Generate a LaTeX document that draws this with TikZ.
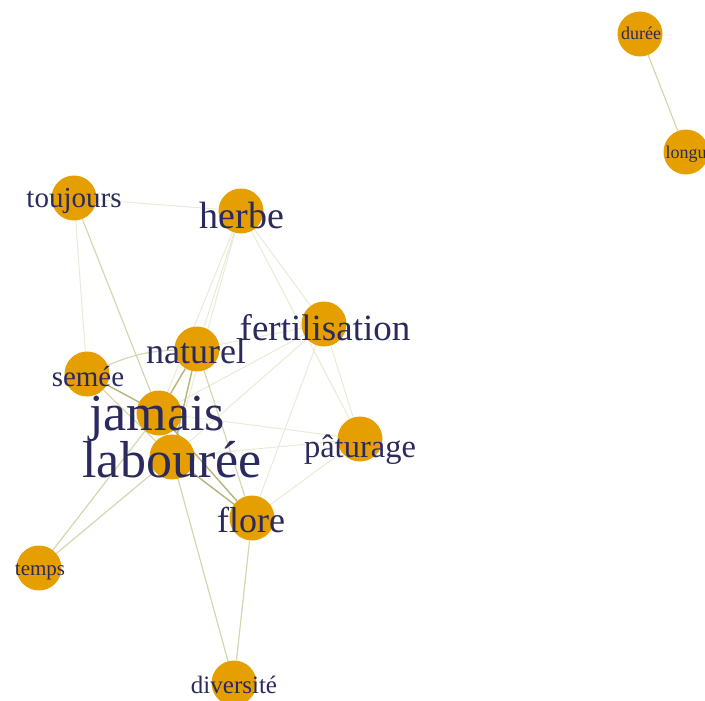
\documentclass[tikz,border=0pt]{standalone}
\usepackage{fontspec}
\setmainfont{Liberation Serif}
\usetikzlibrary{backgrounds}
\definecolor{nodeorange}{HTML}{E69F00}
\definecolor{labelnavy}{HTML}{2B2A5E}
\definecolor{edgedark}{HTML}{B4B47C}
\definecolor{edgemid}{HTML}{D6D6AE}
\definecolor{edgelight}{HTML}{EAEAD6}
\begin{document}
\begin{tikzpicture}[x=1pt,y=-1pt,
  vtx/.style={circle,fill=nodeorange,minimum size=45pt,inner sep=0pt},
  lbl/.style={text=labelnavy,anchor=base,inner sep=0pt},
  heavy/.style={draw=edgedark,line width=1.4pt},
  medium/.style={draw=edgemid,line width=1.2pt},
  light/.style={draw=edgelight,line width=1pt}]
\useasboundingbox (0,0) rectangle (705,701);
% vertices
\node[vtx] (duree) at (640,34) {};
\node[vtx] (longue) at (686,152) {};
\node[vtx] (toujours) at (74,198) {};
\node[vtx] (herbe) at (241,211) {};
\node[vtx] (fert) at (324,324) {};
\node[vtx] (naturel) at (197,349) {};
\node[vtx] (semee) at (87,374) {};
\node[vtx] (jamais) at (159,413) {};
\node[vtx] (labouree) at (172,457) {};
\node[vtx] (paturage) at (360,439) {};
\node[vtx] (flore) at (252,518) {};
\node[vtx] (temps) at (39,568) {};
\node[vtx] (diversite) at (234,683) {};
% edges
\begin{pgfonlayer}{background}
\draw[medium] (duree) -- (longue);
\draw[light] (toujours) -- (herbe);
\draw[light] (toujours) -- (semee);
\draw[medium] (toujours) -- (jamais);
\draw[light] (herbe) -- (naturel);
\draw[light] (herbe) -- (jamais);
\draw[light] (herbe) -- (labouree);
\draw[light] (herbe) -- (fert);
\draw[light] (herbe) -- (paturage);
\draw[light] (naturel) -- (fert);
\draw[light] (jamais) -- (fert);
\draw[light] (labouree) -- (fert);
\draw[light] (fert) -- (flore);
\draw[light] (fert) -- (paturage);
\draw[light] (jamais) -- (paturage);
\draw[light] (labouree) -- (paturage);
\draw[light] (flore) -- (paturage);
\draw[medium] (semee) to[bend left=10] (naturel);
\draw[heavy] (semee) -- (jamais);
\draw[medium] (semee) -- (labouree);
\draw[heavy] (naturel) -- (jamais);
\draw[heavy] (naturel) -- (labouree);
\draw[medium] (naturel) -- (flore);
\draw[heavy] (jamais) -- (labouree);
\draw[heavy] (jamais) -- (flore);
\draw[heavy] (labouree) -- (flore);
\draw[medium] (temps) -- (jamais);
\draw[medium] (temps) -- (labouree);
\draw[medium] (diversite) -- (labouree);
\draw[medium] (diversite) -- (flore);
\end{pgfonlayer}
% labels
\node[lbl,font=\fontsize{18}{18}\selectfont] (tduree) at (641,40) {durée};
\node[lbl,font=\fontsize{18}{18}\selectfont] (tlongue) at (690,158) {longue};
\node[lbl,font=\fontsize{29}{29}\selectfont] (ttoujours) at (74,207) {toujours};
\node[lbl,font=\fontsize{38}{38}\selectfont] (therbe) at (242,228) {herbe};
\node[lbl,font=\fontsize{37}{37}\selectfont] (tfert) at (325,340) {fertilisation};
\node[lbl,font=\fontsize{36}{36}\selectfont] (tnaturel) at (196,363) {naturel};
\node[lbl,font=\fontsize{29}{29}\selectfont] (tsemee) at (88,386) {semée};
\node[lbl,font=\fontsize{52}{52}\selectfont] (tjamais) at (157,430) {jamais};
\node[lbl,font=\fontsize{52}{52}\selectfont] (tlabouree) at (172,477) {labourée};
\node[lbl,font=\fontsize{32.5}{32.5}\selectfont] (tpaturage) at (360,457) {pâturage};
\node[lbl,font=\fontsize{36}{36}\selectfont] (tflore) at (251,532) {flore};
\node[lbl,font=\fontsize{21}{21}\selectfont] (ttemps) at (40,575) {temps};
\node[lbl,font=\fontsize{25}{25}\selectfont] (tdiversite) at (234,693) {diversité};
\end{tikzpicture}
\end{document}
